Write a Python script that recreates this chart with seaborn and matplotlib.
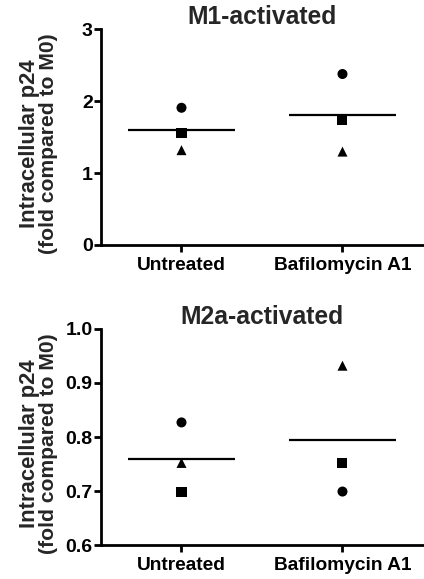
import matplotlib
matplotlib.use("Agg")
import matplotlib.pyplot as plt
import seaborn as sns
import pandas as pd

# values (fold compared to M0)
groups = ["Untreated", "Bafilomycin A1"]
donors = ["Donor 1", "Donor 2", "Donor 3"]
donor_markers = {"Donor 1": "o", "Donor 2": "s", "Donor 3": "^"}

m1_untreated = [1.91, 1.56, 1.32]
m1_bafilomycin = [2.38, 1.74, 1.30]
m2a_untreated = [0.827, 0.698, 0.752]
m2a_bafilomycin = [0.699, 0.752, 0.932]

m1_ticks = [0, 1, 2, 3]
m2a_ticks = [0.6, 0.7, 0.8, 0.9, 1.0]

ylabel_lines = ["Intracellular p24", "(fold compared to M0)"]

sns.set_theme(style="ticks")
plt.rcParams["font.family"] = ["Liberation Sans", "DejaVu Sans"]
plt.rcParams["font.weight"] = "bold"


def make_df(untreated, treated):
    return pd.DataFrame({
        "group": [groups[0]] * len(untreated) + [groups[1]] * len(treated),
        "donor": donors + donors,
        "value": list(untreated) + list(treated),
    })


def draw_panel(ax, df, title, ticks, tick_fmt, title_pad):
    sns.scatterplot(
        data=df, x="group", y="value", style="donor", markers=donor_markers,
        color="black", edgecolor="black", linewidth=0, s=52,
        legend=False, ax=ax,
    )
    means = df.groupby("group", sort=False)["value"].mean()
    for g, m in means.items():
        pos = groups.index(g)
        ax.hlines(m, pos - 0.33, pos + 0.33, color="black", linewidth=1.6)

    ax.set_xlim(-0.5, 1.5)
    ax.set_ylim(ticks[0], ticks[-1])
    ax.set_yticks(ticks)
    ax.set_yticklabels([tick_fmt.format(t) for t in ticks])
    ax.set_xticks(range(len(groups)))
    ax.set_xticklabels(groups)
    ax.set_xlabel("")
    ax.set_ylabel("")
    # two-line y label, first line slightly wider as in the original
    ax.text(-0.222, 0.469, ylabel_lines[0], transform=ax.transAxes,
            rotation=90, ha="center", va="center",
            fontsize=15.8, fontweight="bold")
    ax.text(-0.164, 0.469, ylabel_lines[1], transform=ax.transAxes,
            rotation=90, ha="center", va="center",
            fontsize=15.2, fontweight="bold")
    ax.set_title(title, fontsize=17.7, fontweight="bold", pad=title_pad)

    sns.despine(ax=ax)
    for side in ["left", "bottom"]:
        ax.spines[side].set_linewidth(2)
        ax.spines[side].set_color("black")
    ax.tick_params(axis="both", width=2, length=5, color="black",
                   labelcolor="black")
    ax.tick_params(axis="y", pad=1, labelsize=14)
    ax.tick_params(axis="x", pad=3.5, labelsize=13.8)
    for lab in ax.get_xticklabels() + ax.get_yticklabels():
        lab.set_fontweight("bold")


fig = plt.figure(figsize=(4.24, 5.79), dpi=100)
ax1 = fig.add_axes([0.2382, 0.5769, 0.7594, 0.3722])
ax2 = fig.add_axes([0.2382, 0.0587, 0.7594, 0.3731])

draw_panel(ax1, make_df(m1_untreated, m1_bafilomycin), "M1-activated",
           m1_ticks, "{:d}", 3)
draw_panel(ax2, make_df(m2a_untreated, m2a_bafilomycin), "M2a-activated",
           m2a_ticks, "{:.1f}", 2)

fig.savefig("out.png", dpi=100, facecolor="white")
